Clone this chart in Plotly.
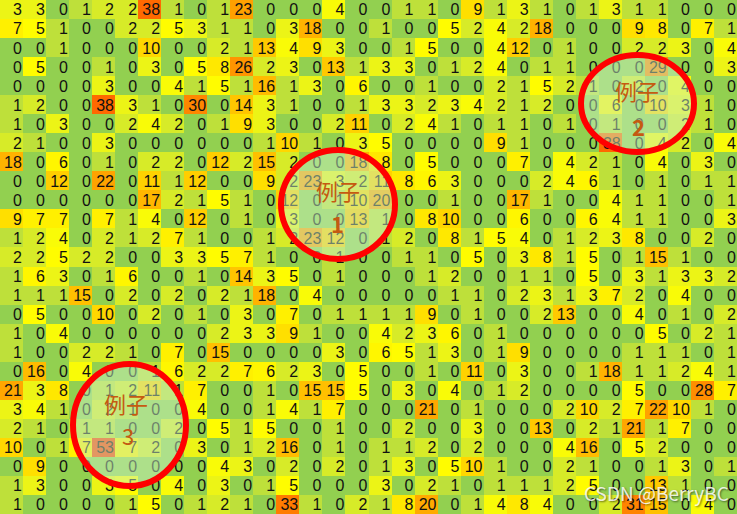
import plotly.graph_objects as go

W, H = 737, 514

rows = [
    [3,3,0,1,2,2,38,1, 0,1,23,0,0,0,4,0, 0,1,1,0,9,1,3,1, 0,1,3,1,1,0,0,0],
    [7,5,1,0,0,2,2,5, 3,1,1,0,3,18,0,0, 1,0,0,5,2,4,2,18, 0,0,0,9,8,0,7,1],
    [0,0,1,0,0,0,10,0, 0,2,1,13,4,9,3,0, 0,1,5,0,0,4,12,0, 1,0,0,2,2,3,0,4],
    [0,5,0,0,1,0,3,0, 5,8,26,2,3,0,13,1, 3,3,0,1,2,4,0,1, 1,0,0,0,29,0,0,3],
    [0,0,0,0,3,0,0,4, 1,5,1,16,1,3,0,6, 0,0,1,0,0,2,1,5, 2,1,0,2,0,4,0,0],
    [1,2,0,0,38,3,1,0, 30,0,14,3,1,0,0,1, 3,3,2,3,4,2,1,2, 0,0,6,0,10,3,1,0],
    [1,0,3,0,0,2,4,2, 0,1,9,3,0,0,2,11, 0,2,4,1,0,1,1,0, 1,0,1,0,0,2,1,0],
    [2,1,0,0,3,0,0,0, 0,0,0,1,10,1,0,3, 5,0,0,0,0,9,1,0, 0,0,38,0,4,2,0,4],
    [18,0,6,0,1,0,2,2, 0,12,2,15,2,0,0,18, 8,0,5,0,0,0,7,0, 4,2,1,0,4,0,3,0],
    [0,0,12,0,22,0,11,1, 12,0,0,9,2,23,3,2, 11,8,6,3,0,0,0,2, 4,6,1,0,1,0,1,1],
    [0,0,0,0,0,0,17,2, 1,5,1,0,12,0,1,10, 20,0,0,1,0,0,17,1, 0,0,4,1,1,0,0,1],
    [9,7,7,0,7,1,4,0, 12,0,1,0,3,0,0,13, 1,0,8,10,0,0,6,0, 0,6,4,1,1,0,0,3],
    [1,2,4,0,2,1,2,7, 1,0,0,1,2,23,12,0, 1,2,0,8,1,5,4,0, 1,2,3,8,0,0,2,0],
    [2,2,5,2,2,0,0,3, 3,5,7,1,0,0,1,0, 0,1,1,0,5,0,3,8, 1,5,0,1,15,1,0,0],
    [1,6,3,0,1,6,0,0, 1,0,14,3,5,0,1,0, 0,0,1,2,0,0,1,1, 0,5,0,3,1,3,3,2],
    [1,1,1,15,0,2,0,2, 0,2,1,18,0,4,0,0, 0,0,0,1,1,0,2,3, 1,3,7,2,0,4,0,0],
    [0,5,0,0,10,0,2,0, 1,0,3,0,7,0,1,1, 1,1,9,0,1,0,0,2, 13,0,0,4,0,1,0,2],
    [1,0,4,0,0,0,0,0, 0,2,3,3,9,1,0,0, 4,2,3,6,0,1,0,0, 0,0,0,0,5,0,2,1],
    [1,0,0,2,2,1,0,7, 0,15,0,0,0,0,3,0, 6,5,1,3,0,1,9,0, 0,0,0,1,1,1,0,1],
    [0,16,0,4,0,0,1,6, 2,2,7,6,2,3,0,5, 0,0,1,0,11,0,3,0, 0,1,18,1,1,2,4,1],
    [21,3,8,0,1,2,11,1, 7,0,0,1,0,15,15,5, 0,3,0,4,0,1,2,0, 0,0,0,5,0,0,28,7],
    [3,4,1,0,2,1,0,0, 4,0,0,1,4,1,7,0, 0,0,21,0,1,0,0,0, 2,10,2,7,22,10,1,0],
    [2,1,0,1,1,0,0,2, 0,5,1,5,0,0,1,0, 0,2,0,0,3,0,0,13, 0,2,1,21,1,7,0,0],
    [10,0,1,7,53,7,2,0, 3,0,1,2,16,0,1,0, 1,1,2,0,2,0,0,0, 4,16,0,5,2,0,0,0],
    [0,9,0,0,0,0,0,0, 0,4,3,0,2,0,2,0, 1,3,0,5,10,1,0,0, 2,1,0,0,1,3,0,1],
    [1,3,0,0,3,5,0,4, 0,3,0,1,5,0,0,0, 3,0,2,1,0,1,1,1, 2,5,0,0,13,1,0,0],
    [1,0,0,0,0,1,5,0, 1,2,1,0,33,1,0,2, 1,8,20,0,1,4,8,4, 0,0,2,31,15,0,4,0],
]

n_rows = len(rows)
n_cols = len(rows[0])
col_idx = list(range(n_cols))
row_idx = list(range(n_rows))

ZMAX = 53
stops = [
    (0, "rgb(146,208,80)"),
    (1, "rgb(190,224,58)"),
    (2, "rgb(215,235,40)"),
    (3, "rgb(236,244,22)"),
    (4.5, "rgb(255,255,0)"),
    (7, "rgb(255,240,0)"),
    (10, "rgb(255,215,0)"),
    (15, "rgb(255,192,0)"),
    (20, "rgb(255,170,0)"),
    (30, "rgb(255,135,0)"),
    (38, "rgb(255,105,0)"),
    (53, "rgb(255,60,0)"),
]
colorscale = [[v / ZMAX, c] for v, c in stops]

fig = go.Figure()
fig.add_trace(go.Heatmap(
    z=rows, x=col_idx, y=row_idx,
    colorscale=colorscale, zmin=0, zmax=ZMAX,
    showscale=False, hoverinfo="skip",
))

# cell numbers (right aligned like a spreadsheet)
tx, ty, tt = [], [], []
for r in row_idx:
    for c in col_idx:
        tx.append(c + 0.45)
        ty.append(r + 0.1)
        tt.append(str(rows[r][c]))
fig.add_trace(go.Scatter(
    x=tx, y=ty, text=tt, mode="text", textposition="middle left",
    textfont=dict(family="Liberation Sans", size=16, color="#111111"),
    hoverinfo="skip", showlegend=False,
))

def px(x):
    return x / W

def py(y):
    return 1 - y / H

circles = [
    dict(box=(281, 150, 395, 259), lab=(338, 190), num=(337, 223), n="1", bold=True),
    dict(box=(581, 55, 694, 152), lab=(637, 90), num=(638, 126), n="2", bold=True),
    dict(box=(73, 364, 186, 486), lab=(126, 403), num=(128, 435), n="3", bold=False),
]
shapes = []
annotations = []
for cc in circles:
    x0, y0, x1, y1 = cc["box"]
    shapes.append(dict(
        type="circle", xref="paper", yref="paper",
        x0=px(x0), x1=px(x1), y0=py(y1), y1=py(y0),
        fillcolor="rgba(200,240,195,0.5)",
        line=dict(color="#FF0000", width=6), layer="above",
    ))
    annotations.append(dict(
        x=px(cc["lab"][0]), y=py(cc["lab"][1]), xref="paper", yref="paper",
        text="例子", showarrow=False, xanchor="center", yanchor="middle",
        font=dict(family="Noto Sans CJK SC", size=22, color="#C55A11"),
    ))
    annotations.append(dict(
        x=px(cc["num"][0]), y=py(cc["num"][1]), xref="paper", yref="paper",
        text=("<b>%s</b>" % cc["n"]) if cc["bold"] else cc["n"], showarrow=False,
        xanchor="center", yanchor="middle",
        font=dict(family="Noto Sans CJK SC", size=22, color="#C55A11"),
    ))

annotations.append(dict(
    x=px(656), y=py(492), xref="paper", yref="paper",
    text="CSDN @BerryBC", showarrow=False, xanchor="center", yanchor="middle",
    font=dict(family="Noto Sans CJK SC", size=19, color="rgba(255,255,255,0.85)",
              shadow="1px 1px 2px rgba(0,0,0,0.6)"),
))

fig.update_layout(
    width=W, height=H,
    margin=dict(l=0, r=0, t=0, b=0),
    paper_bgcolor="white", plot_bgcolor="white",
    xaxis=dict(visible=False, range=[-0.5, n_cols - 0.5], fixedrange=True),
    yaxis=dict(visible=False, range=[n_rows - 0.5, -0.5], fixedrange=True),
    shapes=shapes, annotations=annotations,
    showlegend=False,
)

fig.write_html("out.html")
